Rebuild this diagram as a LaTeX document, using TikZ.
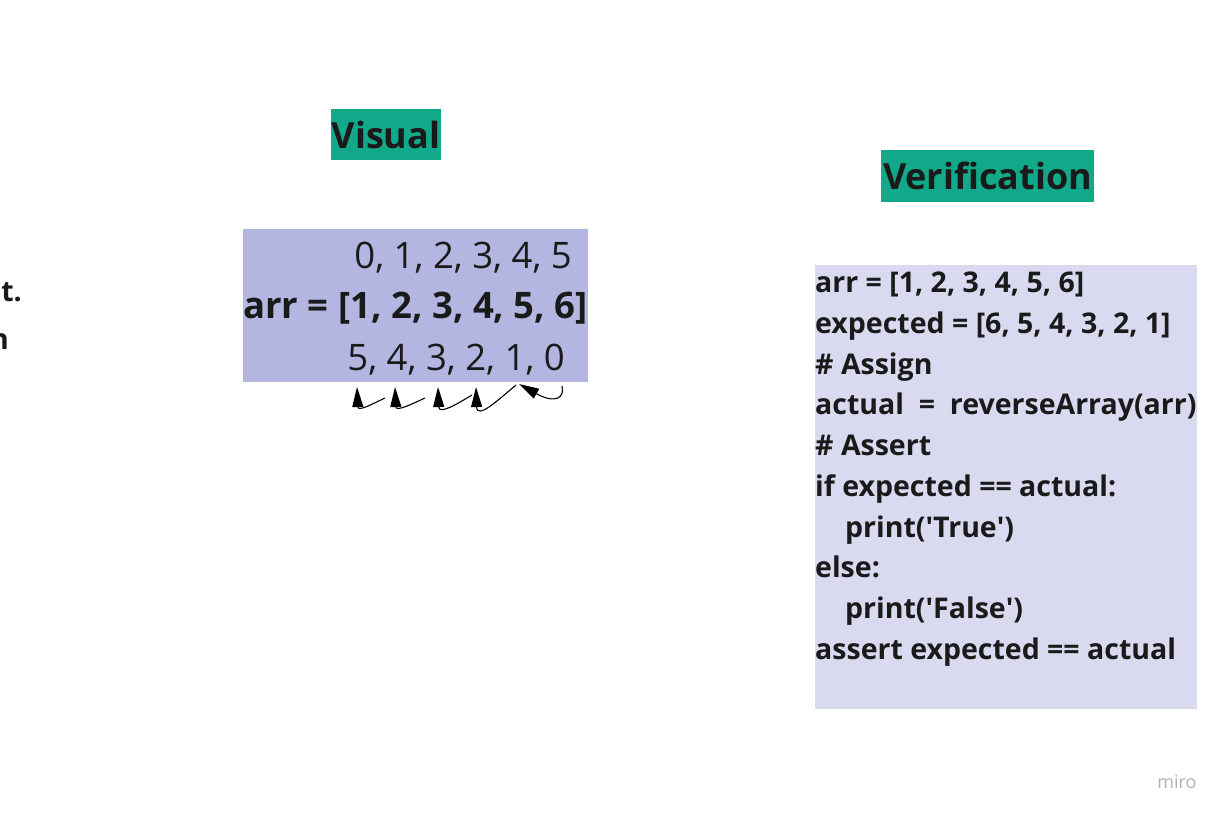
\documentclass[tikz,border=0pt]{standalone}
\usepackage{fontspec}
\setmainfont{Open Sans}
\usetikzlibrary{arrows.meta, positioning}

\definecolor{headteal}{RGB}{18,168,138}
\definecolor{arrblue}{RGB}{179,182,224}
\definecolor{codeblue}{RGB}{217,218,240}
\definecolor{inkdark}{RGB}{26,26,26}

\begin{document}
\begin{tikzpicture}[
    x=1pt, y=-1pt,
    heading/.style={fill=headteal, text=inkdark, inner sep=1pt, font=\fontsize{36}{40}\selectfont\bfseries},
    panel/.style={inner sep=0pt, anchor=north west},
    idx/.style={text=inkdark, inner sep=0pt, font=\fontsize{36.5}{40}\selectfont},
    code/.style={text=inkdark, inner sep=0pt, anchor=north west, align=left,
                 font=\fontsize{28.5}{40.7}\selectfont\bfseries},
    swap/.style={-{Triangle[length=20pt, width=11pt]}, line width=1.1pt},
  ]
  \useasboundingbox[fill=white] (0,0) rectangle (1224,816);

  % --- clipped text at the left edge ---
  \node[code, anchor=east] (cutA) at (22,292) {t.};
  \node[code, anchor=east] (cutB) at (9,342) {n};

  % --- visual ---
  \node[heading, minimum width=110pt, minimum height=51pt] (visual) at (386,134.5) {Visual};
  \node[panel, fill=arrblue, minimum width=345pt, minimum height=153pt] (arrbox) at (243,229) {};
  \node[idx, anchor=east] (fwd) at (572,258) {0, 1, 2, 3, 4, 5};
  \node[idx, anchor=east, font=\fontsize{36.5}{40}\selectfont\bfseries] (arr) at (588,308) {arr = [1, 2, 3, 4, 5, 6]};
  \node[idx, anchor=east] (bwd) at (565,360) {5, 4, 3, 2, 1, 0};

  \coordinate (s1) at (385,398); \coordinate (t1) at (357,387);
  \coordinate (s2) at (425,398); \coordinate (t2) at (395,387);
  \coordinate (s3) at (472,395); \coordinate (t3) at (438,387);
  \coordinate (s4) at (516,385); \coordinate (t4) at (476,387);
  \coordinate (s5) at (562,386); \coordinate (t5) at (519,384);

  \draw[swap] (s1) .. controls (372,404) and (358,412) .. (t1);
  \draw[swap] (s2) .. controls (412,404) and (396,412) .. (t2);
  \draw[swap] (s3) .. controls (457,404) and (439,415) .. (t3);
  \draw[swap] (s4) .. controls (498,400) and (477,420) .. (t4);
  \draw[swap] (s5) .. controls (565,398) and (555,404) .. (t5);

  % --- verification ---
  \node[heading, minimum width=213pt, minimum height=52pt] (verif) at (987.5,176) {Verification};
  \node[panel, fill=codeblue, minimum width=382pt, minimum height=444pt] (codebox) at (815,265) {};
  \node[code] (lines) at (815,272)
    {arr = [1, 2, 3, 4, 5, 6]\\
     expected = [6, 5, 4, 3, 2, 1]\\
     \# Assign\\
     actual\ \ =\ \ reverseArray(arr)\\
     \# Assert\\
     if expected == actual:\\
     \hspace*{30pt}print(\textquotesingle True\textquotesingle)\\
     else:\\
     \hspace*{30pt}print(\textquotesingle False\textquotesingle)\\
     assert expected == actual};

  \node[text=black!30, inner sep=0pt, font=\fontsize{18}{20}\selectfont] (miro) at (1177,782) {miro};
\end{tikzpicture}
\end{document}
